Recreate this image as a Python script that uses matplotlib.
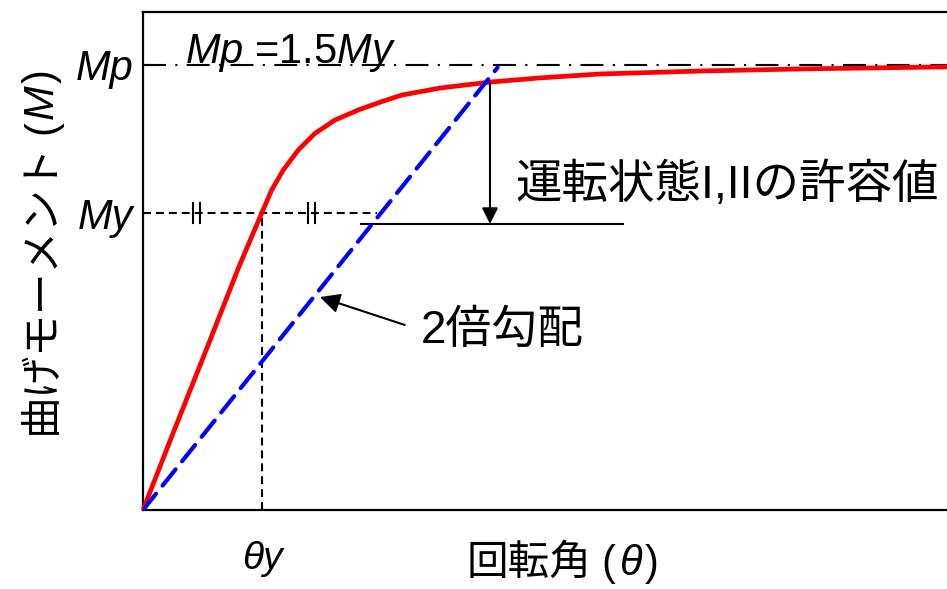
import matplotlib
matplotlib.use('Agg')
import matplotlib.pyplot as plt

# moment-rotation curve (units: theta / theta_y, M / My)
theta_red = [0, 0.25, 0.54, 0.801, 0.913, 0.997, 1.081, 1.179, 1.305, 1.445, 1.613,
             1.81, 2.006, 2.174, 2.5, 2.92, 3.34, 3.84, 4.68, 5.52, 6.76, 7.0]
moment_red = [0, 0.256, 0.548, 0.814, 0.920, 0.999, 1.077, 1.145, 1.212, 1.268, 1.313,
              1.347, 1.375, 1.397, 1.421, 1.441, 1.455, 1.468, 1.478, 1.485, 1.492, 1.493]

# half-slope line ("2倍勾配")
theta_blue = [0, 2.98]
moment_blue = [0, 1.49]

my = 1.0
mp = 1.5
theta_y = 1.0
allow = 0.963          # 運転状態I,IIの許容値 level
allow_x = [1.83, 4.03]
arrow_x = 2.916
marks_x = [0.45, 1.418]

plt.rcParams['font.family'] = ['Liberation Sans', 'Noto Sans CJK JP']
plt.rcParams['mathtext.fontset'] = 'custom'
plt.rcParams['mathtext.rm'] = 'Liberation Sans'
plt.rcParams['mathtext.it'] = 'Liberation Sans:italic'

fig = plt.figure(figsize=(9.47, 5.89), dpi=100)
W, H = 947, 589
ax = fig.add_axes([143 / W, 79 / H, 7 * 119 / W, 498 / H])
ax.set_xlim(0, 7)
ax.set_ylim(0, 498 / 297)

for s in ['left', 'bottom', 'top']:
    ax.spines[s].set_linewidth(1.6)
ax.spines['right'].set_visible(False)

# reference lines
ax.plot([0, 7], [mp, mp], color='black', lw=1.5, dashes=(11, 4.5, 1, 4.5), zorder=2)
ax.plot([0, 1.97], [my, my], color='black', lw=1.5, dashes=(3.8, 2.4), zorder=2)
ax.plot([theta_y, theta_y], [0, my], color='black', lw=1.5, dashes=(3.8, 2.4), zorder=2)
for mx in marks_x:
    for dx in (-0.028, 0.028):
        ax.plot([mx + dx, mx + dx], [my - 0.034, my + 0.034], color='black', lw=1.5, zorder=2)

ax.plot(allow_x, [allow, allow], color='black', lw=1.5, zorder=2)

ax.plot(theta_red, moment_red, color='red', lw=3.4, zorder=3, clip_on=False,
        solid_capstyle='butt', solid_joinstyle='round')
ax.plot(theta_blue, moment_blue, color='blue', lw=3, dashes=(5, 2.5), zorder=4,
        dash_capstyle='round')

# arrows
ax.annotate('', xy=(arrow_x, allow), xytext=(arrow_x, 1.438),
            arrowprops=dict(arrowstyle='-|>', color='black', lw=1.5,
                            mutation_scale=24, shrinkA=0, shrinkB=0))
ax.annotate('', xy=(1.487, 0.717), xytext=(2.20, 0.623),
            arrowprops=dict(arrowstyle='-|>', color='black', lw=1.5,
                            mutation_scale=30, shrinkA=0, shrinkB=0))

ax.text(3.13, 1.094, '運転状態I,IIの許容値', fontsize=33.5, ha='left', va='center')
ax.text(2.33, 0.603, '2倍勾配', fontsize=33, ha='left', va='center')
ax.text(0.35, mp + 0.005, r'$\mathit{Mp}$ =1.5$\mathit{My}$', fontsize=30,
        ha='left', va='baseline')

# ticks
ax.set_yticks([my, mp], ['My', 'Mp'], fontstyle='italic', fontsize=30)
ax.set_xticks([theta_y], ['θy'], fontstyle='italic', fontsize=28)
ax.tick_params(axis='y', direction='in', length=6, width=1.5, pad=7)
ax.tick_params(axis='x', length=0, pad=22)


def chain(first, pieces, vertical=False):
    # place text pieces one after another (upright parens, italic symbol)
    prev = first
    for s, style, gap in pieces:
        if vertical:
            prev = ax.annotate(s, xy=(1, 1), xycoords=prev, xytext=(0, gap),
                               textcoords='offset points', rotation=90,
                               ha='right', va='bottom', fontsize=30,
                               fontstyle=style, annotation_clip=False)
        else:
            prev = ax.annotate(s, xy=(1, 0), xycoords=prev, xytext=(gap, 0),
                               textcoords='offset points', ha='left',
                               va='bottom', fontsize=30, fontstyle=style,
                               annotation_clip=False)


ylab = fig.text(42 / W, 1 - 434 / H, '曲げモーメント', fontsize=30, rotation=90,
                ha='center', va='bottom')
chain(ylab, [('(', 'normal', 6), ('M', 'italic', 1), (')', 'normal', 1)],
      vertical=True)

xlab = fig.text(467 / W, 1 - 564 / H, '回転角', fontsize=30, ha='left', va='center')
chain(xlab, [('(', 'normal', 7), ('θ', 'italic', 3), (')', 'normal', 2)])

fig.savefig('out.png', dpi=100)
